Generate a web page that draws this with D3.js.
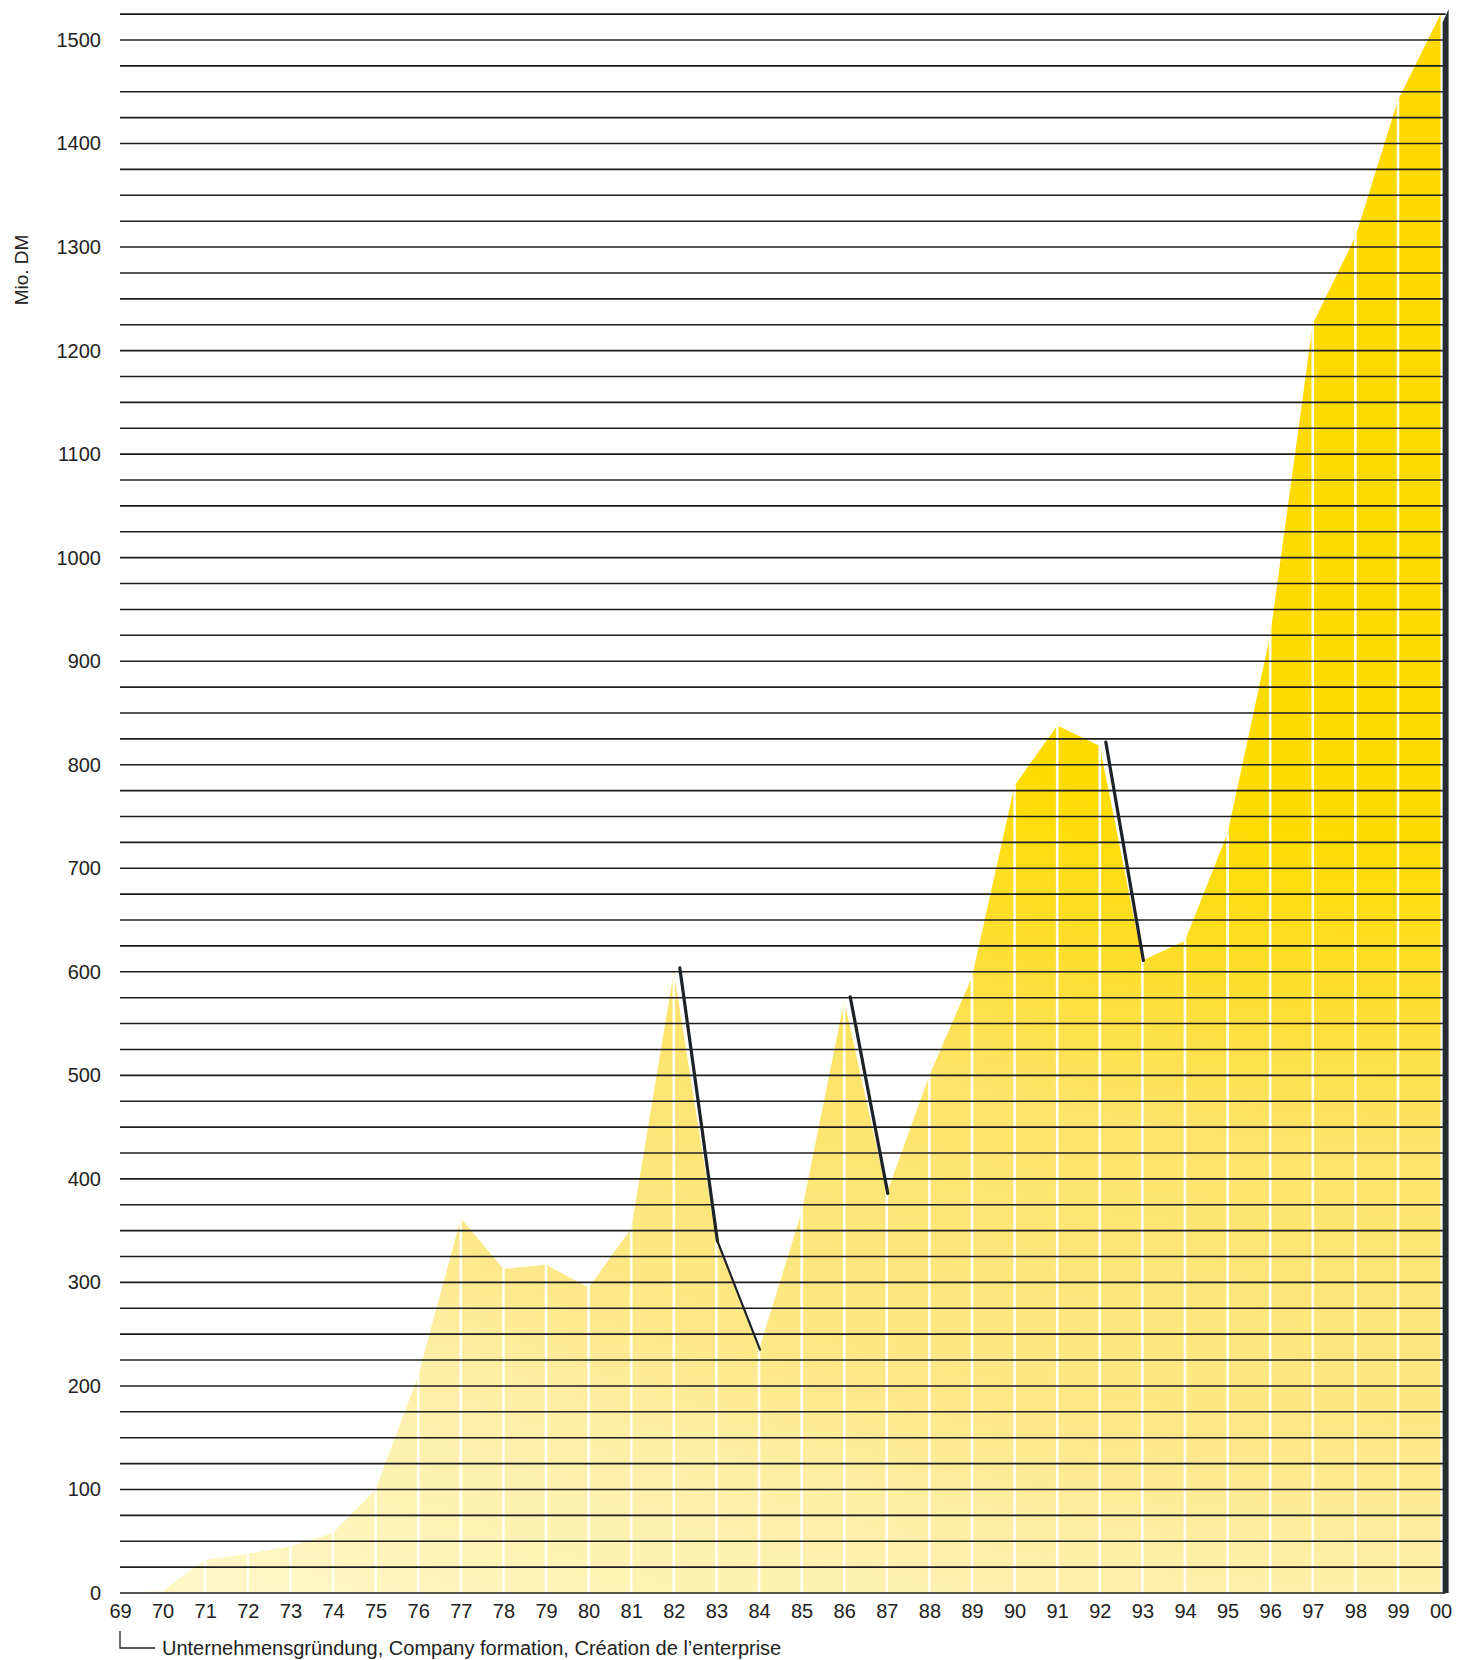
<!DOCTYPE html>
<html>
<head>
<meta charset="utf-8">
<script src="https://cdn.jsdelivr.net/npm/d3@7"></script>
<style>
  body { margin: 0; background: #fff; }
  text { font-family: "Liberation Sans", Arial, sans-serif; fill: #222; }
</style>
</head>
<body>
<svg id="chart" width="1466" height="1660"></svg>
<script>
// sales in Mio. DM, 1969 (company formation) to 2000
const years = [1969, 1970, 1971, 1972, 1973, 1974, 1975, 1976, 1977, 1978, 1979, 1980,
               1981, 1982, 1983, 1984, 1985, 1986, 1987, 1988, 1989, 1990, 1991, 1992,
               1993, 1994, 1995, 1996, 1997, 1998, 1999, 2000];
const yearLabels = ["69", "70", "71", "72", "73", "74", "75", "76", "77", "78", "79", "80",
                    "81", "82", "83", "84", "85", "86", "87", "88", "89", "90", "91", "92",
                    "93", "94", "95", "96", "97", "98", "99", "00"];
const sales = [0, 2, 32, 38, 45, 58, 100, 210, 362, 313, 317, 295,
               352, 600, 340, 235, 368, 572, 386, 500, 595, 780, 838, 818,
               611, 630, 734, 925, 1226, 1310, 1442, 1525];
const yTicks = [0, 100, 200, 300, 400, 500, 600, 700, 800, 900, 1000, 1100, 1200, 1300, 1400, 1500];
// falls marked with a black stroke: [from year, to year]
const drops = [[1982, 1983], [1983, 1984], [1986, 1987], [1992, 1993]];
const footnote = "Unternehmensgründung, Company formation, Création de l\u2019enterprise";

const data = years.map((y, i) => ({ year: y, value: sales[i] }));
const salesOf = y => sales[years.indexOf(y)];

const x = d3.scaleLinear().domain([1969, 2000]).range([120, 1440.6]);
const y = d3.scaleLinear().domain([0, 1500]).range([1593, 40]);

const svg = d3.select("#chart");
const defs = svg.append("defs");

// pale at the bottom left, full yellow towards the top right
const grad = defs.append("radialGradient")
    .attr("id", "fillGrad")
    .attr("gradientUnits", "userSpaceOnUse")
    .attr("cx", 1440).attr("cy", 0).attr("r", 2400)
    .attr("gradientTransform", "translate(1440,0) scale(1,0.77) translate(-1440,0)");
[[0, "#ffd800"], [0.45, "#ffdc00"], [0.54, "#fede2e"], [0.62, "#fde46a"],
 [0.78, "#fde886"], [0.85, "#feefa6"], [1, "#fff7c6"]].forEach(s => {
  grad.append("stop").attr("offset", s[0]).attr("stop-color", s[1]);
});

const area = d3.area()
    .x(d => x(d.year))
    .y0(y(0))
    .y1(d => y(d.value));

defs.append("clipPath").attr("id", "areaClip")
  .append("path").attr("d", area(data));

svg.append("path")
    .attr("d", area(data))
    .attr("fill", "url(#fillGrad)");

// white year separators inside the area
svg.append("g")
    .attr("clip-path", "url(#areaClip)")
  .selectAll("line")
  .data(years.slice(1, -1))
  .enter().append("line")
    .attr("x1", d => x(d)).attr("x2", d => x(d))
    .attr("y1", y(0)).attr("y2", 0)
    .attr("stroke", "#fffef6")
    .attr("stroke-width", 2.6);

// horizontal rules every 25
svg.append("g")
  .selectAll("line")
  .data(d3.range(0, 1526, 25))
  .enter().append("line")
    .attr("x1", 120).attr("x2", x(2000) + 5)
    .attr("y1", d => y(d)).attr("y2", d => y(d))
    .attr("stroke", "#1e1e1e")
    .attr("stroke-width", 1.6);

// black drop strokes; a segment continuing a previous one is thinner
const ends = drops.map(d => d[1]);
const chained = d => ends.includes(d[0]);
svg.append("g")
  .selectAll("line")
  .data(drops)
  .enter().append("line")
    .attr("x1", d => chained(d) ? x(d[0]) + 1 : x(d[0]) + 6)
    .attr("y1", d => y(salesOf(d[0])) - (chained(d) ? 0 : 4))
    .attr("x2", d => x(d[1]) + 1).attr("y2", d => y(salesOf(d[1])))
    .attr("stroke", "#1c2226")
    .attr("stroke-width", d => chained(d) ? 2.2 : 3.2)
    .attr("stroke-linecap", "round");

// dark edge at 2000
const xe = x(2000);
svg.append("path")
    .attr("d", d3.line()([[xe + 2, y(0)], [xe + 2, y(1517)], [xe + 8, y(1530)], [xe + 8, y(0)]]))
    .attr("fill", "#262d31");

// axes
const yAxis = svg.append("g")
    .attr("transform", "translate(120,0)")
    .call(d3.axisLeft(y).tickValues(yTicks).tickSize(0).tickPadding(19).tickFormat(d3.format("d")));
yAxis.select(".domain").remove();
yAxis.selectAll("text").style("font-size", "20px").attr("fill", "#222");

const xAxis = svg.append("g")
    .attr("transform", "translate(0," + y(0) + ")")
    .call(d3.axisBottom(x).tickValues(years).tickSize(0).tickPadding(11)
      .tickFormat((d, i) => yearLabels[i]));
xAxis.select(".domain").remove();
xAxis.selectAll("text").style("font-size", "20px").attr("fill", "#222");

svg.append("text")
    .attr("transform", "translate(28,270) rotate(-90)")
    .attr("text-anchor", "middle")
    .style("font-size", "19px")
    .text("Mio. DM");

// footnote with bracket from the 69 tick
svg.append("path")
    .attr("d", "M" + x(1969) + ",1631 V1648 H" + (x(1969) + 35))
    .attr("fill", "none")
    .attr("stroke", "#222")
    .attr("stroke-width", 1.3);
svg.append("text")
    .attr("x", x(1969) + 42)
    .attr("y", 1655)
    .style("font-size", "20px")
    .text(footnote);
</script>
</body>
</html>
